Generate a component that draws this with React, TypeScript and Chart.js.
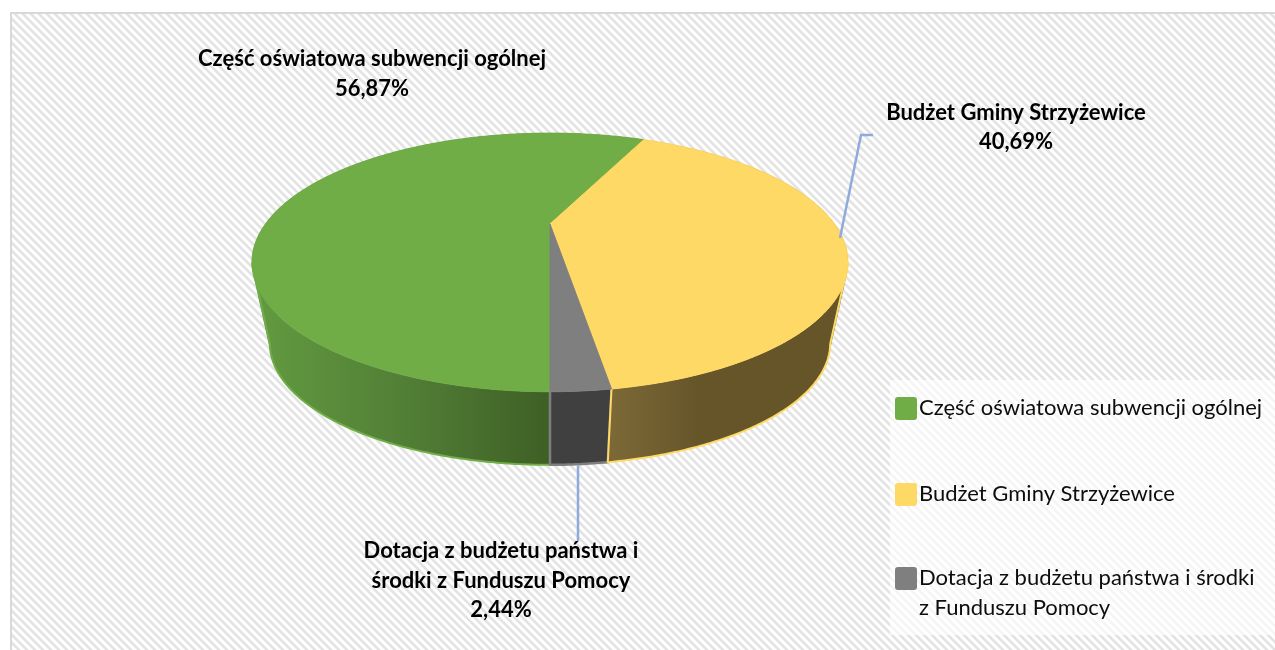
import React, { useEffect, useRef } from "react";
import { Chart, registerables } from "chart.js";

Chart.register(...registerables);

const categories = [
  "Część oświatowa subwencji ogólnej",
  "Budżet Gminy Strzyżewice",
  "Dotacja z budżetu państwa i środki z Funduszu Pomocy",
];
const shares = [56.87, 40.69, 2.44];
const topColors = ["#70AD47", "#FFD966", "#7F7F7F"];
const labelLines = [
  ["Część oświatowa subwencji ogólnej"],
  ["Budżet Gminy Strzyżewice"],
  ["Dotacja z budżetu państwa i", "środki z Funduszu Pomocy"],
];
const legendLines = [
  ["Część oświatowa subwencji ogólnej"],
  ["Budżet Gminy Strzyżewice"],
  ["Dotacja z budżetu państwa i środki", "z Funduszu Pomocy"],
];

const W = 1275;
const H = 650;
const CX = 550;
const K = 0.297;
const S = 284.6;
const B = 397;
const Y_TOP = -173;
const Y_BOT = -66;
const G = 0.94;
const FONT = "Lato, Carlito, Calibri, sans-serif";

const proj = (angle: number, bottom: boolean) => {
  const th = angle + Math.PI / 2;
  const x = Math.sin(th);
  const z = Math.cos(th);
  const w = 1 + K * z;
  const g = bottom ? G : 1;
  return { x: CX + (g * S * x) / w, y: (bottom ? Y_BOT : Y_TOP) + (g * B) / w, z };
};
const arcPts = (a0: number, a1: number, bottom: boolean) => {
  const n = Math.max(4, Math.ceil(Math.abs(a1 - a0) / 0.01));
  const pts = [];
  for (let i = 0; i <= n; i++) pts.push(proj(a0 + ((a1 - a0) * i) / n, bottom));
  return pts;
};

const pseudo3d = {
  id: "pseudo3d",
  beforeDraw(chart: any) {
    const ctx = chart.ctx;
    ctx.save();
    ctx.fillStyle = "#ffffff";
    ctx.fillRect(0, 0, W, H);
    const tile = document.createElement("canvas");
    tile.width = 8;
    tile.height = 8;
    const t = tile.getContext("2d")!;
    for (let y = 0; y < 8; y++) {
      for (let x = 0; x < 8; x++) {
        const d = (x - y + 16) % 8;
        t.fillStyle = d < 3 ? "#e3e3e3" : d === 3 || d === 7 ? "#f5f5f5" : "#ffffff";
        t.fillRect(x, y, 1, 1);
      }
    }
    ctx.fillStyle = ctx.createPattern(tile, "repeat");
    ctx.fillRect(11, 13, W - 11, H - 13);
    ctx.fillStyle = "rgba(255,255,255,0.65)";
    ctx.fillRect(890, 380, W - 890, 255);
    ctx.fillStyle = "#d9d9d9";
    ctx.fillRect(10, 12, W - 10, 2);
    ctx.fillRect(10, 12, 2, H - 12);
    ctx.restore();
  },
  beforeDatasetsDraw(chart: any) {
    const ctx = chart.ctx;
    const arcs = chart.getDatasetMeta(0).data;
    ctx.save();
    ctx.lineJoin = "round";

    const wallFill = (i: number) => {
      if (i === 2) return "#404040";
      const grad = ctx.createLinearGradient(i === 0 ? 257 : 610, 0, i === 0 ? 550 : 700, 0);
      if (i === 0) {
        grad.addColorStop(0, "#629A40");
        grad.addColorStop(0.5, "#527F36");
        grad.addColorStop(1, "#3E5F25");
      } else {
        grad.addColorStop(0, "#7C6937");
        grad.addColorStop(1, "#665529");
      }
      return grad;
    };

    // side walls: green, grey, yellow
    [0, 2, 1].forEach((i) => {
      const { startAngle, endAngle } = arcs[i];
      const top = arcPts(startAngle, endAngle, false);
      const bot = arcPts(startAngle, endAngle, true);
      ctx.fillStyle = wallFill(i);
      ctx.beginPath();
      for (let j = 0; j < top.length - 1; j++) {
        const q = [top[j], top[j + 1], bot[j + 1], bot[j]];
        let area = 0;
        q.forEach((p, n) => {
          const r = q[(n + 1) % 4];
          area += p.x * r.y - r.x * p.y;
        });
        if (area < 0) q.reverse();
        ctx.moveTo(q[0].x, q[0].y);
        ctx.lineTo(q[1].x, q[1].y);
        ctx.lineTo(q[2].x, q[2].y);
        ctx.lineTo(q[3].x, q[3].y);
        ctx.closePath();
      }
      ctx.fill();

      // outline only along the visible front of the lower rim
      ctx.strokeStyle = topColors[i];
      ctx.lineWidth = i === 2 ? 2.5 : 2;
      ctx.beginPath();
      let started = false;
      for (let j = 0; j < bot.length; j++) {
        if (bot[j].z > -K) continue;
        if (!started) {
          ctx.moveTo(top[j].x, top[j].y);
          started = true;
        }
        ctx.lineTo(bot[j].x, bot[j].y);
        if (j === bot.length - 1 || bot[j + 1].z > -K) ctx.lineTo(top[j].x, top[j].y);
      }
      ctx.stroke();
    });

    // top faces, from the arcs the pie controller laid out
    [0, 1, 2].forEach((i) => {
      const { startAngle, endAngle } = arcs[i];
      const rim = arcPts(startAngle, endAngle, false);
      const apex = { x: CX, y: Y_TOP + B };
      ctx.beginPath();
      ctx.moveTo(apex.x, apex.y);
      rim.forEach((p) => ctx.lineTo(p.x, p.y));
      ctx.closePath();
      ctx.fillStyle = topColors[i];
      ctx.strokeStyle = topColors[i];
      ctx.lineWidth = 1;
      ctx.fill();
      ctx.stroke();
    });
    ctx.restore();
    return false;
  },
  afterDraw(chart: any) {
    const ctx = chart.ctx;
    const data = chart.data.datasets[0].data;
    ctx.save();

    // leader lines
    ctx.strokeStyle = "#8FAADC";
    ctx.lineWidth = 2.5;
    ctx.beginPath();
    ctx.moveTo(840, 238);
    ctx.lineTo(861, 135);
    ctx.lineTo(873, 135);
    ctx.moveTo(578, 466);
    ctx.lineTo(578, 541);
    ctx.stroke();

    // data labels
    ctx.textAlign = "center";
    ctx.textBaseline = "middle";
    ctx.fillStyle = "#000000";
    ctx.font = `bold 22px ${FONT}`;
    const anchors = [
      { x: 372, y: 59, gap: 30 },
      { x: 1016, y: 113, gap: 29 },
      { x: 501, y: 551, gap: 29.5 },
    ];
    anchors.forEach((a, i) => {
      const lines = [...labelLines[i], `${data[i].toFixed(2).replace(".", ",")}%`];
      lines.forEach((l, j) => ctx.fillText(l, a.x, a.y + j * a.gap));
    });

    // legend
    const rows = [408, 494, 578];
    ctx.textAlign = "left";
    ctx.font = `22px ${FONT}`;
    rows.forEach((y, i) => {
      ctx.fillStyle = chart.data.datasets[0].backgroundColor[i];
      ctx.beginPath();
      ctx.roundRect(895, y - 11, 22, 23, 3);
      ctx.fill();
      ctx.fillStyle = "#0D0D0D";
      legendLines[i].forEach((l, j) => ctx.fillText(l, 919, y + j * 30));
    });
    ctx.restore();
  },
};

export default function App() {
  const ref = useRef<HTMLCanvasElement>(null);
  useEffect(() => {
    document.body.style.margin = "0";
    const chart = new Chart(ref.current!, {
      type: "pie",
      data: {
        labels: categories,
        datasets: [{ data: shares, backgroundColor: topColors, borderWidth: 0 }],
      },
      options: {
        responsive: false,
        animation: false,
        rotation: 180,
        plugins: { legend: { display: false }, tooltip: { enabled: false } },
      },
      plugins: [pseudo3d],
    } as any);
    return () => chart.destroy();
  }, []);
  return <canvas ref={ref} width={W} height={H} style={{ display: "block" }} />;
}
